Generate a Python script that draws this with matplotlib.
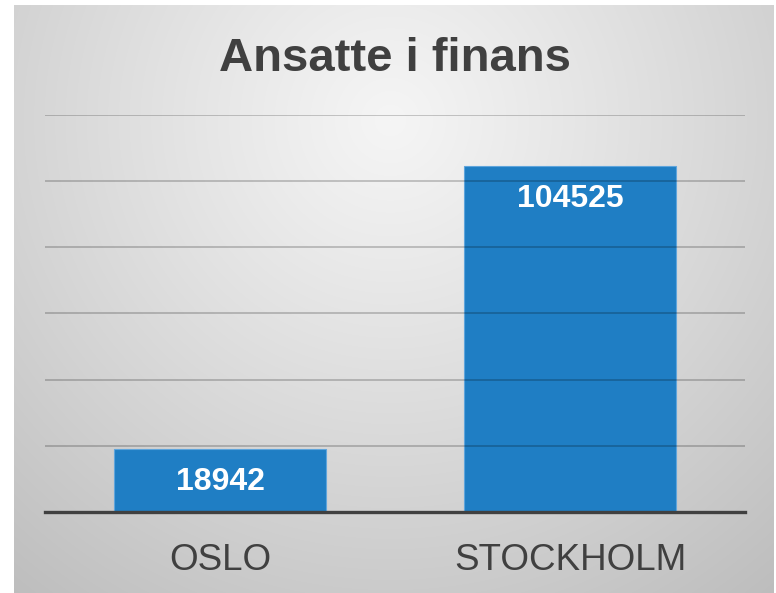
import numpy as np
import matplotlib
matplotlib.use("Agg")
import matplotlib.pyplot as plt

categories = ["OSLO", "STOCKHOLM"]
values = [18942, 104525]
title = "Ansatte i finans"

W, H = 776, 593
fig = plt.figure(figsize=(W / 100, H / 100), dpi=100)
fig.patch.set_facecolor("white")

# background panel with radial gradient
bx0, by0, bx1, by1 = 14, 5, 774, 593  # pixel box (top-left origin)
bg = fig.add_axes([bx0 / W, 1 - by1 / H, (bx1 - bx0) / W, (by1 - by0) / H])
yy, xx = np.mgrid[by0:by1, bx0:bx1]
d = np.sqrt((xx - 390.0) ** 2 + ((yy - 120.0) * 1.0) ** 2)
val = np.clip(245 - 55 * (d / 600.0) ** 1.1, 180, 255) / 255.0
img = np.dstack([val, val, val])
bg.imshow(img, aspect="auto", interpolation="bilinear")
bg.set_axis_off()

font = ["Liberation Sans", "DejaVu Sans"]

ax = fig.add_axes([45 / W, (H - 512) / H, 700 / W, (512 - 115) / H])
ax.patch.set_alpha(0)
x = np.arange(len(categories))
bars = ax.bar(x, values, width=0.604, color="#1f7ec4", edgecolor="#5fa5dc",
              linewidth=0.8, zorder=2)
ax.set_xlim(-0.5, 1.5)
ax.set_ylim(0, 120000)
ax.set_yticks(np.arange(20000, 120001, 20000))
ax.yaxis.grid(True, color="black", alpha=0.2, linewidth=1.4, zorder=3)
ax.set_axisbelow(False)
ax.tick_params(axis="y", left=False, labelleft=False)
ax.tick_params(axis="x", bottom=False, pad=19)
ax.set_xticks(x)
ax.set_xticklabels(categories, fontsize=26.5, color="#404040", family=font)
for s in ["left", "right", "top"]:
    ax.spines[s].set_visible(False)
ax.spines["bottom"].set_color("#404040")
ax.spines["bottom"].set_linewidth(2.4)
ax.spines["bottom"].set_zorder(4)

for xi, v in zip(x, values):
    ax.annotate(str(v), (xi, v), xytext=(0, -23.5), textcoords="offset points",
                ha="center", va="center", fontsize=23, fontweight="bold",
                color="white", family=font, zorder=5)

fig.text(395 / W, 1 - 59 / H, title, ha="center", va="center", fontsize=34,
         fontweight="bold", color="#404040", family=font)

fig.savefig("out.png", dpi=100)
